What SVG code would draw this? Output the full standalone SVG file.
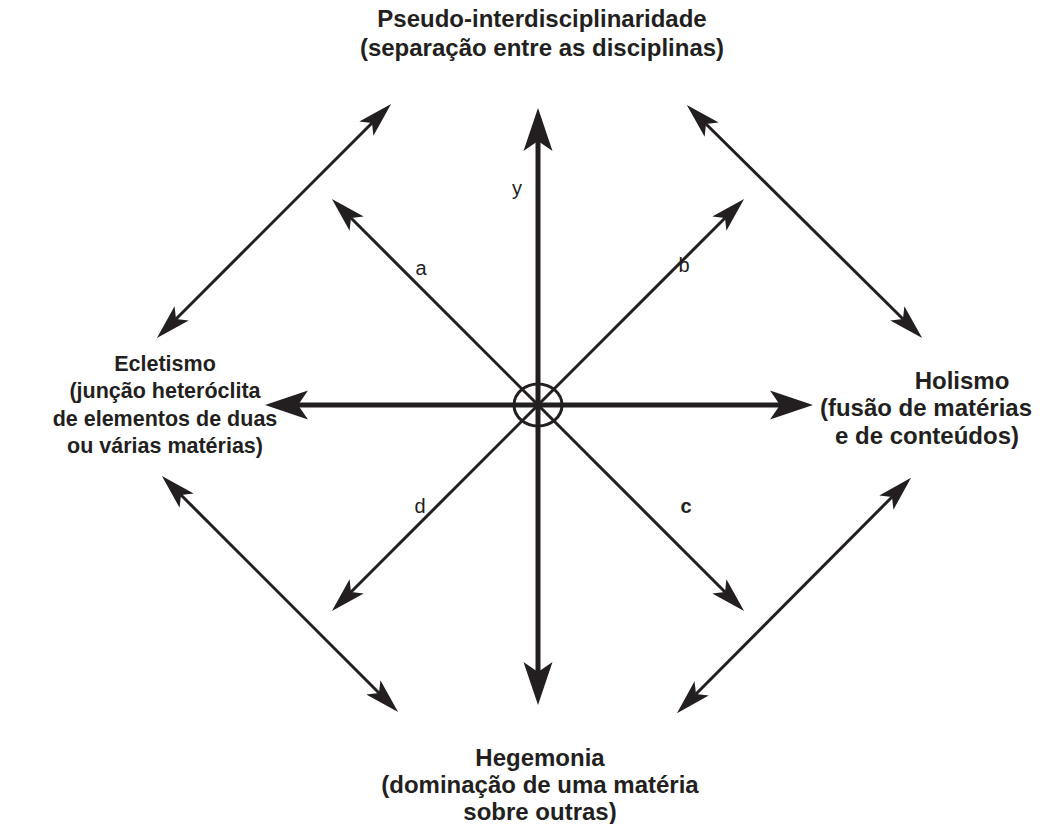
<svg xmlns="http://www.w3.org/2000/svg" width="1049" height="824" viewBox="0 0 1049 824">
<style>
.t{font-family:"Liberation Sans",Arial,sans-serif;font-weight:bold;font-size:24px;fill:#231f20;text-anchor:middle}
.tl{font-family:"Liberation Sans",Arial,sans-serif;font-weight:bold;font-size:21.5px;fill:#231f20;text-anchor:middle}
.l{font-family:"Liberation Sans",Arial,sans-serif;font-size:20px;fill:#231f20;text-anchor:middle}
.lb{font-family:"Liberation Sans",Arial,sans-serif;font-weight:bold;font-size:20px;fill:#231f20;text-anchor:middle}
.thick{stroke:#231f20;stroke-width:5;fill:none}
.thin{stroke:#231f20;stroke-width:3;fill:none}
</style>
<defs>
<marker id="big" markerUnits="userSpaceOnUse" viewBox="-1 -16 13 32" refX="0" refY="0" markerWidth="13" markerHeight="32" orient="auto-start-reverse" overflow="visible">
<path d="M33,0 L-10,-14.5 L0,0 L-10,14.5 Z" fill="#231f20"/>
</marker>
<marker id="small" markerUnits="userSpaceOnUse" viewBox="-1 -11 10 22" refX="0" refY="0" markerWidth="10" markerHeight="22" orient="auto-start-reverse" overflow="visible">
<path d="M27,0 L-8,-10 L0,0 L-8,10 Z" fill="#231f20"/>
</marker>
</defs>
<g id="connectors">
<line class="thick" x1="538" y1="141" x2="538" y2="672" marker-start="url(#big)" marker-end="url(#big)"/>
<line class="thick" x1="298" y1="405" x2="780" y2="405" marker-start="url(#big)" marker-end="url(#big)"/>
<line class="thin" x1="538" y1="405" x2="351" y2="218" marker-end="url(#small)"/>
<line class="thin" x1="538" y1="405" x2="725" y2="218" marker-end="url(#small)"/>
<line class="thin" x1="538" y1="405" x2="725" y2="592" marker-end="url(#small)"/>
<line class="thin" x1="538" y1="405" x2="351" y2="592" marker-end="url(#small)"/>
<line class="thin" x1="176" y1="319" x2="372" y2="123" marker-start="url(#small)" marker-end="url(#small)"/>
<line class="thin" x1="706" y1="124" x2="903" y2="319" marker-start="url(#small)" marker-end="url(#small)"/>
<line class="thin" x1="181" y1="495" x2="379" y2="693" marker-start="url(#small)" marker-end="url(#small)"/>
<line class="thin" x1="892" y1="497" x2="696" y2="694" marker-start="url(#small)" marker-end="url(#small)"/>
<ellipse class="thin" cx="538" cy="405" rx="24" ry="21"/>
</g>
<g id="labels">
<text class="l" x="517" y="195">y</text>
<text class="l" x="421" y="275">a</text>
<text class="l" x="684" y="272">b</text>
<text class="lb" x="686" y="513">c</text>
<text class="l" x="420" y="513">d</text>
</g>
<g id="node-top">
<text class="t" x="542" y="27">Pseudo-interdisciplinaridade</text>
<text class="t" x="542" y="56">(separação entre as disciplinas)</text>
</g>
<g id="node-left">
<text class="tl" x="165" y="371">Ecletismo</text>
<text class="tl" x="165" y="398">(junção heteróclita</text>
<text class="tl" x="165" y="426">de elementos de duas</text>
<text class="tl" x="165" y="453">ou várias matérias)</text>
</g>
<g id="node-right">
<text class="t" x="962" y="389">Holismo</text>
<text class="t" x="926" y="416">(fusão de matérias</text>
<text class="t" x="927" y="444">e de conteúdos)</text>
</g>
<g id="node-bottom">
<text class="t" x="540" y="766">Hegemonia</text>
<text class="t" x="540" y="793">(dominação de uma matéria</text>
<text class="t" x="540" y="820">sobre outras)</text>
</g>
</svg>
